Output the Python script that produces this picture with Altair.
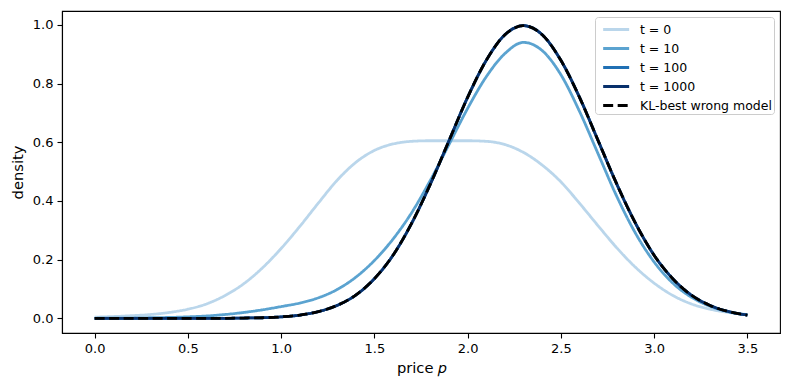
import altair as alt
import pandas as pd

# price grid (x values at 0.1 steps)
price = [0.0, 0.1, 0.2, 0.3, 0.4, 0.5, 0.6, 0.7, 0.8, 0.9,
         1.0, 1.1, 1.2, 1.3, 1.4, 1.5, 1.6, 1.7, 1.8, 1.9,
         2.0, 2.1, 2.2, 2.3, 2.4, 2.5, 2.6, 2.7, 2.8, 2.9,
         3.0, 3.1, 3.2, 3.3, 3.4, 3.5]

dens_t0 = [0.004, 0.006, 0.009, 0.013, 0.020, 0.031, 0.049, 0.078, 0.118, 0.172,
           0.238, 0.313, 0.393, 0.470, 0.531, 0.572, 0.594, 0.603, 0.605, 0.605,
           0.605, 0.603, 0.592, 0.565, 0.522, 0.465, 0.392, 0.315, 0.240, 0.174,
           0.120, 0.078, 0.049, 0.031, 0.020, 0.013]

dens_t10 = [0.000, 0.001, 0.001, 0.002, 0.003, 0.005, 0.008, 0.013, 0.020, 0.029,
            0.040, 0.052, 0.070, 0.098, 0.140, 0.197, 0.270, 0.360, 0.470, 0.592,
            0.715, 0.823, 0.902, 0.940, 0.912, 0.830, 0.705, 0.560, 0.415, 0.290,
            0.192, 0.120, 0.072, 0.041, 0.022, 0.012]

dens_t100 = [0.000, 0.000, 0.000, 0.000, 0.000, 0.000, 0.000, 0.000, 0.001, 0.002,
             0.005, 0.011, 0.023, 0.044, 0.079, 0.135, 0.215, 0.324, 0.457, 0.605,
             0.753, 0.879, 0.966, 0.997, 0.966, 0.879, 0.753, 0.605, 0.457, 0.324,
             0.215, 0.135, 0.079, 0.044, 0.023, 0.011]

dens_t1000 = [0.000, 0.000, 0.000, 0.000, 0.000, 0.000, 0.000, 0.000, 0.001, 0.002,
              0.005, 0.011, 0.023, 0.044, 0.079, 0.135, 0.215, 0.324, 0.457, 0.605,
              0.753, 0.879, 0.966, 0.997, 0.966, 0.879, 0.753, 0.605, 0.457, 0.324,
              0.215, 0.135, 0.079, 0.044, 0.023, 0.011]

dens_kl = [0.000, 0.000, 0.000, 0.000, 0.000, 0.000, 0.000, 0.000, 0.001, 0.002,
           0.005, 0.011, 0.023, 0.044, 0.079, 0.135, 0.215, 0.324, 0.457, 0.605,
           0.753, 0.879, 0.966, 0.997, 0.966, 0.879, 0.753, 0.605, 0.457, 0.324,
           0.215, 0.135, 0.079, 0.044, 0.023, 0.011]

series_names = ["t = 0", "t = 10", "t = 100", "t = 1000", "KL-best wrong model"]
series_values = [dens_t0, dens_t10, dens_t100, dens_t1000, dens_kl]
series_colors = ["#bad6eb", "#5ba3d0", "#2070b4", "#08306b", "#000000"]
series_dashes = [[1, 0], [1, 0], [1, 0], [1, 0], [10, 4.5]]

rows = []
for name, vals in zip(series_names, series_values):
    for p, d in zip(price, vals):
        rows.append({"series": name, "price": p, "density": d})
df = pd.DataFrame(rows)

color_scale = alt.Scale(domain=series_names, range=series_colors)
dash_scale = alt.Scale(domain=series_names, range=series_dashes)

leg = alt.Legend(title=None, orient="top-right", offset=6)

base = alt.Chart(df).mark_line(strokeWidth=2.8, interpolate="monotone").encode(
    x=alt.X("price:Q",
            scale=alt.Scale(domain=[-0.175, 3.675], nice=False, zero=False),
            axis=alt.Axis(title="price 𝑝", values=[0, 0.5, 1, 1.5, 2, 2.5, 3, 3.5],
                          format=".1f")),
    y=alt.Y("density:Q",
            scale=alt.Scale(domain=[-0.05, 1.047], nice=False, zero=False),
            axis=alt.Axis(title="density", values=[0, 0.2, 0.4, 0.6, 0.8, 1.0],
                          format=".1f")),
    color=alt.Color("series:N", scale=color_scale, legend=leg),
    strokeDash=alt.StrokeDash("series:N", scale=dash_scale, legend=leg),
)

layers = [base.transform_filter(alt.datum.series == n) for n in series_names]

chart = alt.layer(*layers).properties(
    width=718,
    height=322,
    autosize=alt.AutoSizeParams(type="none"),
    padding={"left": 54, "top": 3, "right": 2, "bottom": 55},
).configure_view(
    stroke="#000000", strokeWidth=1.1
).configure_axis(
    grid=False,
    domainColor="#000000", domainWidth=1.1,
    tickColor="#000000", tickWidth=1.1, tickSize=5,
    labelFont="DejaVu Sans", labelFontSize=13, labelColor="#000000",
    labelPadding=4,
    titleFont="DejaVu Sans", titleFontSize=14.7, titleFontWeight="normal",
    titleColor="#000000",
).configure_axisX(
    titlePadding=5
).configure_axisY(
    titlePadding=7
).configure_legend(
    symbolType="M-0.5,0L2.5,0", symbolSize=300, symbolStrokeWidth=2.8,
    labelFont="DejaVu Sans", labelFontSize=12.5, labelColor="#000000",
    rowPadding=2, padding=2,
    strokeColor="#cccccc", fillColor="#ffffff", cornerRadius=3,
    labelOffset=22,
)

chart.save("out.html", embed_options={"renderer": "svg", "actions": False})
